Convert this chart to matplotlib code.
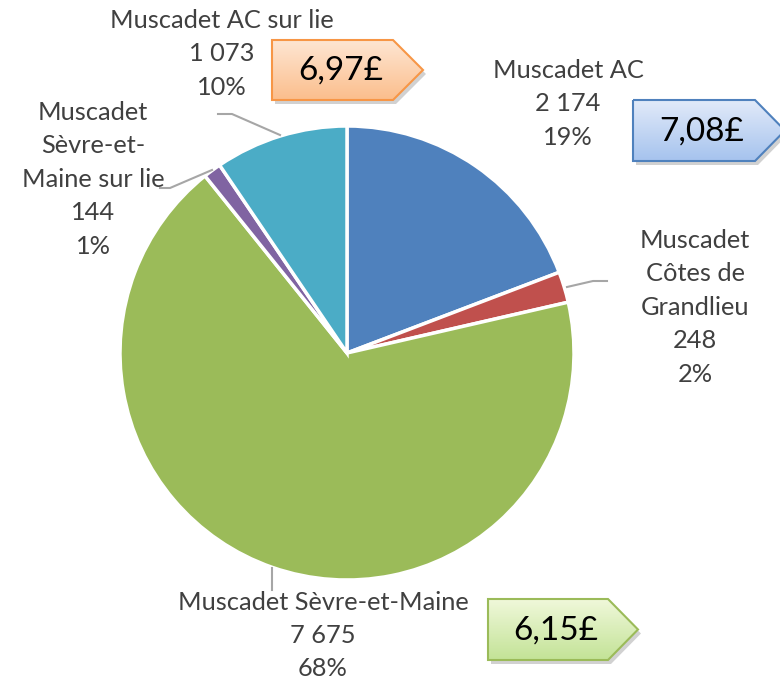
import matplotlib
matplotlib.use("Agg")
import matplotlib.pyplot as plt
import numpy as np
from matplotlib.patches import Polygon
from matplotlib.colors import LinearSegmentedColormap

plt.rcParams['font.family'] = ['Lato', 'DejaVu Sans']

categories = ["Muscadet AC", "Muscadet Côtes de Grandlieu", "Muscadet Sèvre-et-Maine",
              "Muscadet Sèvre-et-Maine sur lie", "Muscadet AC sur lie"]
values = [2174, 248, 7675, 144, 1073]
value_labels = ["2 174", "248", "7 675", "144", "1 073"]
pct_labels = ["19%", "2%", "68%", "1%", "10%"]
colors = ["#4F81BD", "#C0504D", "#9BBB59", "#8064A2", "#4BACC6"]

price_labels = ["6,97£", "7,08£", "6,15£"]

W, H = 780, 685
fig = plt.figure(figsize=(W / 100, H / 100), dpi=100)
ax = fig.add_axes([0, 0, 1, 1])

cx, cy, R = 347, 353, 227
ax.pie(values, colors=colors, startangle=-90, counterclock=True,
       center=(cx, cy), radius=R,
       wedgeprops=dict(edgecolor="white", linewidth=2.5))
ax.set_xlim(0, W)
ax.set_ylim(H, 0)
ax.set_aspect("auto")
ax.axis("off")

txt_color = "#404040"
fs = 18.3
pitch = 33.5

def label(lines, x, y0):
    for i, s in enumerate(lines):
        ax.text(x, y0 + i * pitch, s, ha="center", va="center",
                fontsize=fs, color=txt_color)

# data labels
label(["Muscadet AC", value_labels[0], pct_labels[0]], 568, 70)
label(["Muscadet", "Côtes de", "Grandlieu", value_labels[1], pct_labels[1]], 695, 240)
label(["Muscadet Sèvre-et-Maine", value_labels[2], pct_labels[2]], 323, 602)
label(["Muscadet", "Sèvre-et-", "Maine sur lie", value_labels[3], pct_labels[3]], 93, 112)
label(["Muscadet AC sur lie", value_labels[4], pct_labels[4]], 222, 20)

# leader lines
lc = "#A6A6A6"
ax.plot([218, 232, 280], [114, 114, 135], color=lc, lw=1.5)
ax.plot([160, 170, 212], [188, 188, 170], color=lc, lw=1.5)
ax.plot([567, 593, 607], [287, 281, 281], color=lc, lw=1.5)
ax.plot([272, 272], [568, 590], color=lc, lw=1.5)

def arrow(x0, y0, x1, xt, y1, top, bot, edge, text):
    ym = (y0 + y1) / 2
    pts = [(x0, y0), (x1, y0), (xt, ym), (x1, y1), (x0, y1)]
    sh = Polygon([(x + 3, y + 4) for x, y in pts], closed=True,
                 facecolor="#000000", alpha=0.18, edgecolor="none", zorder=4)
    ax.add_patch(sh)
    poly = Polygon(pts, closed=True, facecolor="none", edgecolor=edge,
                   linewidth=1.5, zorder=6)
    ax.add_patch(poly)
    cmap = LinearSegmentedColormap.from_list("g", [top, bot])
    grad = np.linspace(0, 1, 100).reshape(-1, 1)
    im = ax.imshow(grad, cmap=cmap, extent=(x0, xt, y1, y0), aspect="auto",
                   zorder=5, interpolation="bicubic")
    clip = Polygon(pts, closed=True, transform=ax.transData)
    im.set_clip_path(clip)
    ax.text((x0 + x1) / 2 + 8, ym + 1, text, ha="center", va="center",
            fontsize=24, color="black", zorder=7)

arrow(272, 40, 393, 423, 100, "#FEE6D3", "#FBBE8C", "#F79646", price_labels[0])
arrow(633, 100, 755, 785, 161, "#E1EAF9", "#A6C3EE", "#4F81BD", price_labels[1])
arrow(488, 599, 608, 638, 660, "#F0F8DA", "#C3E397", "#9BBB59", price_labels[2])

ax.set_xlim(0, W)
ax.set_ylim(H, 0)

fig.savefig("out.png", dpi=100)
